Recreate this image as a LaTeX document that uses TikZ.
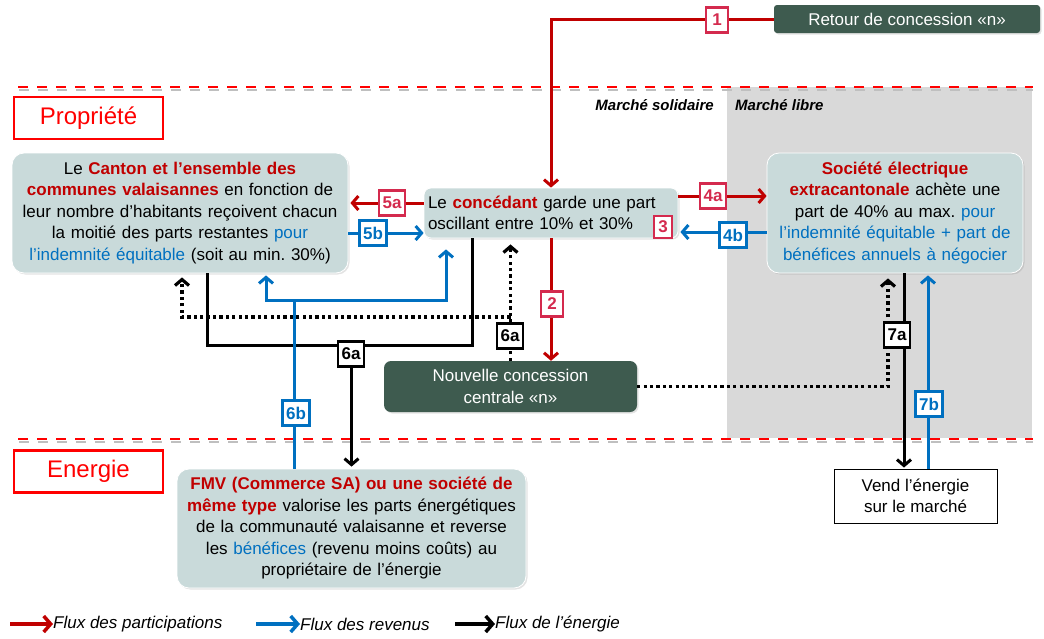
\documentclass[tikz,border=0pt]{standalone}
\usepackage{fontspec}
\setmainfont{Liberation Sans}
\usetikzlibrary{arrows.meta,shadows}
\definecolor{flred}{HTML}{C00000}
\definecolor{lblred}{HTML}{D42A4E}
\definecolor{flblue}{HTML}{0070C0}
\definecolor{boxfill}{HTML}{C9DADA}
\definecolor{dkgreen}{HTML}{3E5B4F}
\definecolor{zone}{HTML}{D9D9D9}
\definecolor{hdred}{HTML}{FF0000}
\begin{document}
\frenchspacing
\begin{tikzpicture}[x=1pt,y=-1pt,
  >={Straight Barb[length=6pt,width=14pt]},
  every node/.style={inner sep=0pt},
  txt/.style={font=\fontsize{17}{21.5}\selectfont},
  soft/.style={drop shadow={shadow xshift=1.5pt,shadow yshift=-1.5pt,opacity=0.22}},
  infobox/.style={txt, soft, fill=boxfill, draw=white, line width=0.8pt, rounded corners=12pt, align=center},
  darkbox/.style={txt, soft, fill=dkgreen, text=white, align=center},
  zonetitle/.style={draw=hdred, line width=2.2pt, text=hdred, font=\fontsize{24}{24}\selectfont, minimum width=149pt, minimum height=42pt},
  lbl/.style={draw, fill=white, line width=2.2pt, font=\fontsize{17}{17}\selectfont\bfseries, inner xsep=3.5pt, inner ysep=3pt, minimum height=25pt, minimum width=22pt},
  lr/.style={lbl, draw=lblred, text=lblred},
  lb/.style={lbl, draw=flblue, text=flblue},
  lk/.style={lbl, draw=black, text=black},
  rflow/.style={draw=flred, line width=3pt},
  bflow/.style={draw=flblue, line width=3pt},
  kflow/.style={draw=black, line width=3pt},
  dflow/.style={draw=black, line width=3.2pt, dash pattern=on 3.2pt off 3.2pt},
  sep/.style={draw=hdred, line width=2.2pt, dash pattern=on 10pt off 9pt},
  sepshadow/.style={draw=gray!50, line width=1.5pt, dash pattern=on 10pt off 9pt},
  market/.style={font=\fontsize{15}{15}\selectfont\bfseries\itshape},
  legtext/.style={font=\fontsize{17}{17}\selectfont\itshape, anchor=west},
  legarrow/.style={line width=3.5pt, -{Straight Barb[length=7pt,width=16pt]}}
]
\useasboundingbox (0,0) rectangle (1044,638);

% market zone
\fill[zone] (727,87) rectangle (1032,438);
\node[market, anchor=east] (msol) at (714,105) {Marché solidaire};
\node[market, anchor=west] (mlib) at (735,105) {Marché libre};

% separators
\draw[sepshadow] (19,90) -- (1033,90);
\draw[sep] (18,87) -- (1033,87);
\draw[sepshadow] (19,442) -- (1033,442);
\draw[sep] (18,439) -- (1033,439);

% zone titles
\node[zonetitle] (prop) at (88.5,118) {Propriété};
\node[zonetitle] (ener) at (88.5,471.5) {Energie};

% boxes
\node[infobox, minimum width=336pt, minimum height=120pt, text width=330pt] (canton) at (180,213)
 {Le {\bfseries\color{flred}Canton et l’ensemble des}\\
  {\bfseries\color{flred}communes valaisannes} en fonction de\\
  leur nombre d’habitants reçoivent chacun\\
  la moitié des parts restantes {\color{flblue}pour}\\
  {\color{flblue}l’indemnité équitable} (soit au min. 30\%)};
\node[infobox, rounded corners=7pt, align=left, inner xsep=4pt, text width=246pt, minimum height=50pt] (concedant) at (551,213)
 {Le {\bfseries\color{flred}concédant} garde une part\\
  oscillant entre 10\% et 30\%};
\node[infobox, minimum width=256pt, minimum height=120pt, text width=250pt] (societe) at (895,213)
 {{\bfseries\color{flred}Société électrique}\\
  {\bfseries\color{flred}extracantonale} achète une\\
  part de 40\% au max. {\color{flblue}pour}\\
  {\color{flblue}l’indemnité équitable + part de}\\
  {\color{flblue}bénéfices annuels à négocier}};
\node[infobox, minimum width=349pt, minimum height=119pt, text width=343pt] (fmv) at (351.5,528.5)
 {{\bfseries\color{flred}FMV (Commerce SA) ou une société de}\\
  {\bfseries\color{flred}même type} valorise les parts énergétiques\\
  de la communauté valaisanne et reverse\\
  les {\color{flblue}bénéfices} (revenu moins coûts) au\\
  propriétaire de l’énergie};
\node[darkbox, rounded corners=3pt, minimum width=266pt, minimum height=28pt] (retour) at (907,19)
 {Retour de concession «n»};
\node[darkbox, rounded corners=7pt, minimum width=253pt, minimum height=51pt] (nouvelle) at (510.5,386.5)
 {Nouvelle concession\\centrale «n»};
\node[txt, draw=black, line width=0.9pt, fill=white, align=center, minimum width=163pt, minimum height=54pt] (vend) at (915.5,496)
 {Vend l’énergie\\sur le marché};

% connectors (drawn under labels)
\coordinate (b6) at (472,345);
\coordinate (j6b) at (294,300);

% 1 and 2 : participations
\draw[rflow,->] (retour.west) -| (concedant.north);
\draw[rflow,->] (concedant.south) -- (concedant.south |- nouvelle.north);
% 5a / 5b
\draw[rflow,->,shorten >=2pt] (concedant.west |- 0,203) -- (canton.east |- 0,203);
\draw[bflow,->] (canton.east |- 0,233) -- (concedant.west |- 0,233);
% 4a / 4b
\draw[rflow,->] (concedant.east |- 0,196) -- (societe.west |- 0,196);
\draw[bflow,->,shorten >=2pt] (societe.west |- 0,232) -- (concedant.east |- 0,232);

% 6a energy loop
\draw[kflow] (canton.south -| 207,0) |- (b6) -- (concedant.south -| b6);
\draw[kflow,->,shorten >=2pt] (fmv.north |- b6) -- (fmv.north);

% 6a dotted
\draw[dflow,->,shorten >=6pt] (nouvelle.north) -- (nouvelle.north |- concedant.south);
\draw[dflow,->,shorten >=4pt] (nouvelle.north |- 0,317) -| (canton.south -| 182,0);
% dotted to societe
\draw[dflow,->,shorten >=5pt] (nouvelle.east) -| (societe.south -| 888,0);

% 6b revenues
\draw[bflow] (fmv.north -| j6b) -- (j6b);
\draw[bflow,->,shorten >=2pt] (j6b) -| (canton.south -| 266,0);
\draw[bflow,->,shorten >=11pt] (j6b) -| (concedant.south -| 446,0);

% 7a / 7b
\draw[kflow,->,shorten >=1pt] (societe.south -| 904,0) -- (vend.north -| 904,0);
\draw[bflow,->,shorten >=2pt] (vend.north -| 928,0) -- (societe.south -| 928,0);

% labels
\node[lr] (l1) at (717,20) {1};
\node[lr] (l2) at (552,304) {2};
\node[lr, minimum height=22pt, minimum width=18pt, inner xsep=2pt] (l3) at (663,227) {3};
\node[lr] (l4a) at (713,196) {4a};
\node[lb] (l4b) at (733,235) {4b};
\node[lr] (l5a) at (392,203) {5a};
\node[lb] (l5b) at (373,233) {5b};
\node[lk] (l6a) at (351,354) {6a};
\node[lk] (l6ad) at (510,336) {6a};
\node[lb] (l6b) at (296,413) {6b};
\node[lk] (l7a) at (897,335) {7a};
\node[lb] (l7b) at (929,404) {7b};

% legend
\node[legtext] (leg1) at (53,624) {Flux des participations};
\node[legtext] (leg2) at (300,624) {Flux des revenus};
\node[legtext] (leg3) at (495,624) {Flux de l’énergie};
\coordinate (a1) at (10,624);
\coordinate (a2) at (256,624);
\coordinate (a3) at (455,624);
\draw[legarrow, draw=flred] (a1) -- (leg1.west);
\draw[legarrow, draw=flblue] (a2) -- (leg2.west);
\draw[legarrow, draw=black] (a3) -- (leg3.west);
\end{tikzpicture}
\end{document}
